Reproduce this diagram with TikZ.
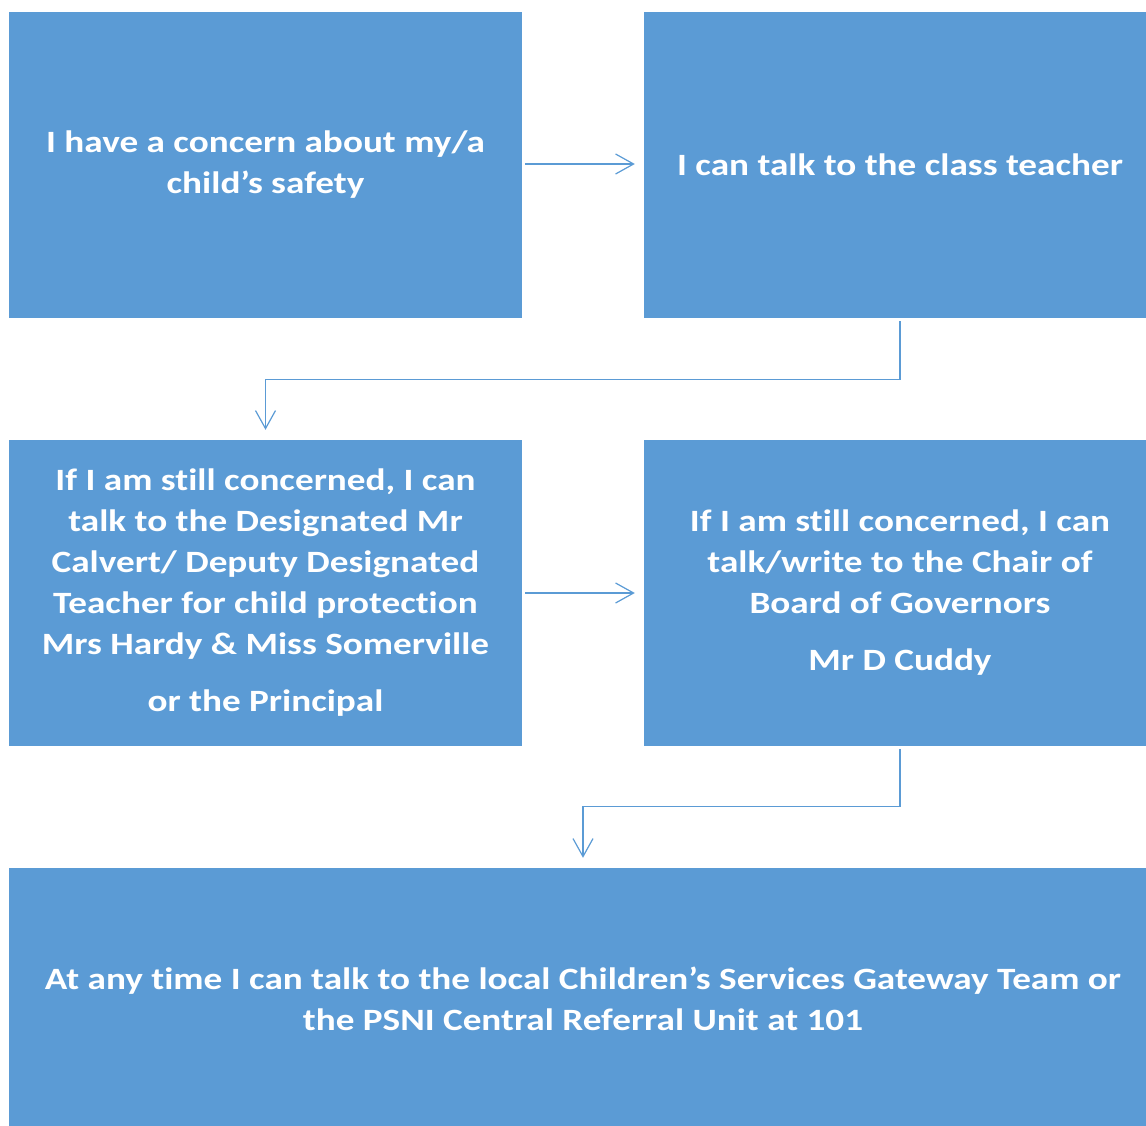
\documentclass[tikz,border=0pt]{standalone}
\usepackage{fontspec}
\setmainfont{Carlito}[Ligatures={NoCommon},FakeStretch=1.2]
\usetikzlibrary{arrows.meta}
\definecolor{boxblue}{HTML}{5B9BD5}
\begin{document}
\begin{tikzpicture}[x=1pt,y=-1pt,
    infobox/.style={fill=boxblue,text=white,align=center,inner sep=0pt,
        font=\bfseries\fontsize{31}{41}\selectfont},
    flow/.style={draw=boxblue,line width=1.2pt,-{Straight Barb[length=18pt,width=20pt,line width=1.2pt]}}]
        \useasboundingbox (0,0) rectangle (1146,1126);

        \node[infobox,minimum width=513pt,minimum height=306pt] (concern) at (265.5,165)
            {I have a concern about my/a\\child’s safety};
        \node[infobox,minimum width=512pt,minimum height=306pt] (teacher) at (900,165)
            {I can talk to the class teacher};
        \node[infobox,minimum width=513pt,minimum height=306pt] (designated) at (265.5,593)
            {If I am still concerned, I can\\talk to the Designated Mr\\Calvert/ Deputy Designated\\Teacher for child protection\\Mrs Hardy \& Miss Somerville\\[16pt]or the Principal};
        \node[infobox,minimum width=512pt,minimum height=306pt] (chair) at (900,593)
            {If I am still concerned, I can\\talk/write to the Chair of\\Board of Governors\\[16pt]Mr D Cuddy};
        \node[infobox,minimum width=1148pt,minimum height=262pt] (gateway) at (583,999)
            {At any time I can talk to the local Children’s Services Gateway Team or\\the PSNI Central Referral Unit at 101};

        \draw[flow,shorten <=3pt,shorten >=9pt] (concern.east |- 0,164) -- (teacher.west |- 0,164);
        \draw[flow,shorten <=3pt,shorten >=10pt] (teacher.south) -- ++(0,61) -| (designated.north);
        \draw[flow,shorten <=3pt,shorten >=10pt] (chair.south) -- ++(0,60) -| (gateway.north);
        \draw[flow,shorten <=3pt,shorten >=9pt] (designated.east |- 0,593) -- (chair.west |- 0,593);
\end{tikzpicture}
\end{document}
